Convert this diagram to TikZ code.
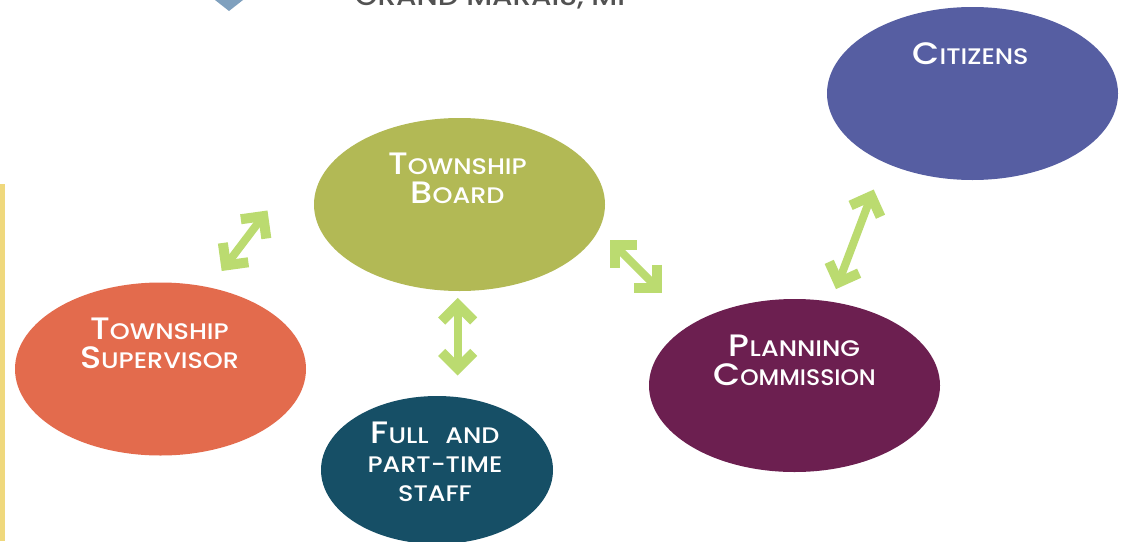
\documentclass[tikz,border=0pt]{standalone}
\usepackage{fontspec}
\setmainfont{Poppins Medium}[FakeStretch=1.13]
\newfontfamily\narrowword{Poppins Medium}[FakeStretch=1.04]
\usetikzlibrary{shapes.geometric,arrows.meta}
\definecolor{boardc}{HTML}{B2B955}
\definecolor{supc}{HTML}{E36B4D}
\definecolor{planc}{HTML}{6C1F50}
\definecolor{staffc}{HTML}{164F66}
\definecolor{citc}{HTML}{565EA2}
\definecolor{arrc}{HTML}{BBDB70}
\definecolor{barc}{HTML}{EFD87C}
\definecolor{logoc}{HTML}{7FA0BE}
\newcommand{\bigL}[1]{{\fontsize{31}{29}\selectfont #1}}
\newcommand{\smL}[1]{{\fontsize{22.5}{29}\selectfont #1}}
\tikzset{
  oval/.style={ellipse,draw=none,fill=#1,minimum width=291pt,minimum height=173pt,inner sep=0pt},
  lab/.style={text=white,align=center,inner sep=0pt,font=\fontsize{22.5}{29}\selectfont},
  link/.style={draw=arrc,line width=8pt,{Straight Barb[length=16pt,width=32pt,line width=10pt]}-{Straight Barb[length=16pt,width=32pt,line width=10pt]}}
}
\begin{document}
\begin{tikzpicture}[x=1pt,y=-1pt]
\useasboundingbox (0,0) rectangle (1124,541);
\fill[white] (0,0) rectangle (1124,541);
\fill[barc] (0,184) rectangle (5,541);
% cropped logo at the top edge
\fill[logoc] (215,0) -- (243,0) -- (229,11) -- cycle;
\node[anchor=base,text=black!68,inner sep=0pt,font=\fontsize{26}{26}\selectfont] (logo) at (490,5) {GRAND MARAIS, MI};
% ovals
\node[oval=citc,label={[lab,xshift=-2pt,yshift=40pt]center:\bigL{C}\smL{ITIZENS}}] (cit) at (972.5,93.5) {};
\node[oval=boardc,label={[lab,xshift=-2pt,yshift=26pt]center:\bigL{T}\smL{OWNSHIP}\\\bigL{B}\smL{OARD}}] (board) at (459.5,204.5) {};
\node[oval=supc,label={[lab,xshift=-1pt,yshift=26pt]center:\bigL{T}\smL{OWNSHIP}\\\bigL{S}\smL{UPERVISOR}}] (sup) at (160.5,369) {};
\node[oval=planc,label={[lab,yshift=25.5pt]center:\bigL{P}\smL{LANNING}\\\bigL{C}{\narrowword\smL{OMMISSION}}}] (plan) at (794.5,385.5) {};
\node[oval=staffc,minimum width=232pt,minimum height=148pt,label={[lab,xshift=-2pt,yshift=8.5pt]center:\bigL{F}\smL{ULL\hspace{10pt} AND}\\\smL{PART-TIME}\\\smL{STAFF}}] (staff) at (437,470) {};
% connectors
\draw[link] ([shift={(-1.8,6.7)}]board.south) -- ([shift={(20.7,-20.3)}]staff.north);
\draw[link] ([shift={(-46.3,6)}]board.west) -- ([shift={(61.2,-11.3)}]sup.north);
\draw[link] ([shift={(4.3,35.5)}]board.east) -- ([shift={(-132.5,-6.3)}]plan.north);
\draw[link] ([shift={(41.5,-9.7)}]plan.north) -- ([shift={(-98.8,9.3)}]cit.south);
\end{tikzpicture}
\end{document}
